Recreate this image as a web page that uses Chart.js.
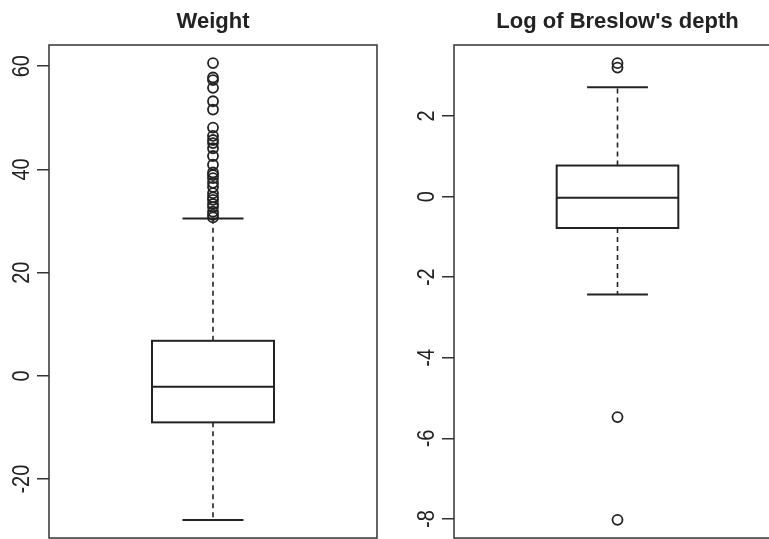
<!DOCTYPE html>
<html>
<head>
<meta charset="utf-8">
<script src="https://cdn.jsdelivr.net/npm/chart.js@4"></script>
<style>
  html, body { margin: 0; padding: 0; background: #fff; overflow: hidden; }
  #wrap { position: relative; width: 769px; height: 539px; overflow: hidden; }
  .panel { position: absolute; top: 0; }
  canvas { display: block; }
</style>
</head>
<body>
<div id="wrap">
  <div class="panel" style="left:0"><canvas id="weight-chart" width="384" height="539"></canvas></div>
  <div class="panel" style="left:384px"><canvas id="breslow-chart" width="397" height="539"></canvas></div>
</div>
<script>
// five-number summaries: lower whisker, q1, median, q3, upper whisker
const weightStats = [-27.9, -9.0, -2.1, 6.8, 30.5];
const weightOutliers = [60.6, 57.8, 57.3, 55.8, 53.2, 51.6, 48.1, 46.5, 45.7, 45.1, 44.1, 42.6, 40.9,
  39.4, 38.9, 38.3, 37.4, 36.6, 35.4, 34.6, 34.1, 33.3, 32.7, 31.8, 31.2, 30.7];
const weightTicks = [-20, 0, 20, 40, 60];

const breslowStats = [-2.43, -0.78, -0.03, 0.77, 2.71];
const breslowOutliers = [3.31, 3.2, -5.47, -8.02];
const breslowTicks = [-8, -6, -4, -2, 0, 2];

const ink = "#222";
const boxHalf = 0.372;
const capHalf = 0.186;

// draws the box, median and whiskers from the stats array, via the chart scales
const boxplotPlugin = {
  id: "boxplot",
  beforeDatasetsDraw(chart, args, opts) {
    const s = opts.stats;
    if (!s) return;
    const x = chart.scales.x, y = chart.scales.y;
    const ctx = chart.ctx;
    const xl = x.getPixelForValue(1 - boxHalf), xr = x.getPixelForValue(1 + boxHalf);
    const xc = x.getPixelForValue(1);
    const cl = x.getPixelForValue(1 - capHalf), cr = x.getPixelForValue(1 + capHalf);
    const [lo, q1, med, q3, hi] = s.map((v) => y.getPixelForValue(v));
    ctx.save();
    ctx.strokeStyle = ink;
    // whiskers
    ctx.lineWidth = 1.6;
    ctx.setLineDash([5, 4]);
    ctx.beginPath();
    ctx.moveTo(xc, q3); ctx.lineTo(xc, hi);
    ctx.moveTo(xc, q1); ctx.lineTo(xc, lo);
    ctx.stroke();
    ctx.setLineDash([]);
    ctx.lineWidth = 2;
    ctx.beginPath();
    ctx.moveTo(cl, hi); ctx.lineTo(cr, hi);
    ctx.moveTo(cl, lo); ctx.lineTo(cr, lo);
    ctx.stroke();
    // box + median
    ctx.fillStyle = "#fff";
    ctx.fillRect(xl, q3, xr - xl, q1 - q3);
    ctx.strokeRect(xl, q3, xr - xl, q1 - q3);
    ctx.beginPath();
    ctx.moveTo(xl, med); ctx.lineTo(xr, med);
    ctx.stroke();
    ctx.restore();
  },
  afterDraw(chart) {
    const a = chart.chartArea, ctx = chart.ctx, y = chart.scales.y;
    ctx.save();
    // frame
    ctx.strokeStyle = "#333";
    ctx.lineWidth = 1.5;
    ctx.strokeRect(a.left, a.top, a.right - a.left, a.bottom - a.top);
    // R style tick labels, rotated (slightly stretched like the original)
    ctx.fillStyle = ink;
    ctx.font = "20px 'Liberation Sans', Arial, sans-serif";
    ctx.textAlign = "center";
    ctx.textBaseline = "middle";
    for (const t of y.ticks) {
      ctx.save();
      ctx.translate(a.left - 27, y.getPixelForValue(t.value));
      ctx.rotate(-Math.PI / 2);
      ctx.scale(1, 1.18);
      ctx.fillText(String(t.value), 0, 0);
      ctx.restore();
    }
    ctx.restore();
  },
};

function makeBoxChart(canvas, title, stats, outliers, ticks, yMin, yMax, axisWidth, padRight) {
  return new Chart(canvas, {
    type: "scatter",
    data: {
      datasets: [
        {
          label: title,
          data: outliers.map((v) => ({ x: 1, y: v })),
          pointRadius: 5,
          pointBorderWidth: 1.8,
          borderColor: ink,
          backgroundColor: "rgba(0,0,0,0)",
          showLine: false,
        },
      ],
    },
    options: {
      responsive: false,
      animation: false,
      events: [],
      layout: { autoPadding: false, padding: { left: 0, right: padRight, top: 0, bottom: 1 } },
      scales: {
        x: { type: "linear", min: 0, max: 2, display: false },
        y: {
          min: yMin,
          max: yMax,
          afterBuildTicks: (scale) => {
            scale.ticks = ticks.map((v) => ({ value: v }));
          },
          afterFit: (scale) => {
            scale.width = axisWidth;
          },
          ticks: { display: false },
          border: { display: false },
          grid: {
            drawOnChartArea: false,
            drawTicks: true,
            tickLength: 12,
            color: "#333",
            lineWidth: 1.5,
          },
        },
      },
      plugins: {
        legend: { display: false },
        tooltip: { enabled: false },
        title: {
          display: true,
          fullSize: false,
          text: title,
          color: ink,
          font: { family: "'Liberation Sans', Arial, sans-serif", size: 22, weight: "bold", lineHeight: 1.2 },
          padding: { top: 9, bottom: 9.6 },
        },
        boxplot: { stats: stats },
      },
    },
    plugins: [boxplotPlugin],
  });
}

document.addEventListener("DOMContentLoaded", () => {
  makeBoxChart(document.getElementById("weight-chart"), "Weight",
    weightStats, weightOutliers, weightTicks, -31.4, 64.1, 49, 7);
  makeBoxChart(document.getElementById("breslow-chart"), "Log of Breslow's depth",
    breslowStats, breslowOutliers, breslowTicks, -8.47, 3.76, 70, 0);
});
</script>
</body>
</html>
